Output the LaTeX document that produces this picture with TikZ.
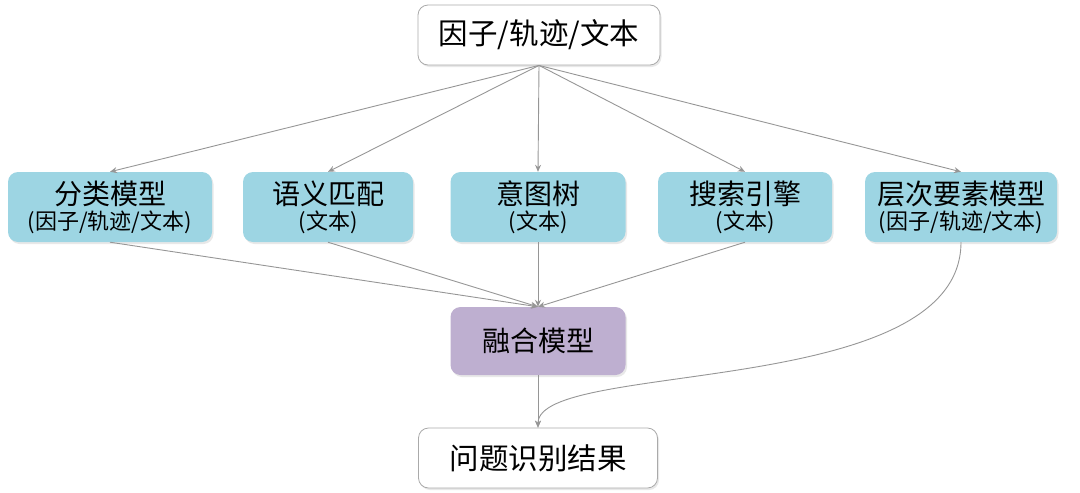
\documentclass[tikz,border=0pt]{standalone}
\usepackage{fontspec}
\setmainfont{Noto Sans CJK SC}
\usetikzlibrary{arrows.meta,shadows}
\definecolor{boxblue}{RGB}{157,213,227}
\definecolor{boxpurple}{RGB}{190,175,208}
\definecolor{linegray}{RGB}{150,150,150}
\definecolor{bordergray}{RGB}{170,170,170}
\newcommand{\subline}[1]{{\fontsize{22}{26}\selectfont #1}}
\begin{document}
\begin{tikzpicture}[x=1pt,y=-1pt,
  base/.style={rounded corners=10pt, inner sep=0pt, align=center,
    drop shadow={opacity=0.18, shadow xshift=1.5pt, shadow yshift=-2pt}},
  whitebox/.style={base, draw=bordergray, line width=0.8pt, fill=white, font=\fontsize{29.5}{32}\selectfont},
  bluebox/.style={base, fill=boxblue, font=\fontsize{28}{30}\selectfont},
  purplebox/.style={base, fill=boxpurple, font=\fontsize{28}{30}\selectfont},
  conn/.style={draw=linegray, line width=0.9pt, -{Stealth[length=7pt,width=6pt]}}
]
\useasboundingbox (0,0) rectangle (1080,493);
\node[whitebox, minimum width=242pt, minimum height=60pt] (top) at (539,35) {因子/轨迹/文本};
\node[bluebox, minimum width=204pt, minimum height=70pt] (b1) at (110,207) {分类模型\\[-5pt]\subline{(因子/轨迹/文本)}};
\node[bluebox, minimum width=170pt, minimum height=70pt] (b2) at (328,207) {语义匹配\\[-5pt]\subline{(文本)}};
\node[bluebox, minimum width=175pt, minimum height=70pt] (b3) at (538,207) {意图树\\[-5pt]\subline{(文本)}};
\node[bluebox, minimum width=174pt, minimum height=70pt] (b4) at (745,207) {搜索引擎\\[-5pt]\subline{(文本)}};
\node[bluebox, minimum width=192pt, minimum height=70pt] (b5) at (961,207) {层次要素模型\\[-5pt]\subline{(因子/轨迹/文本)}};
\node[purplebox, minimum width=175pt, minimum height=68pt] (fu) at (538,341) {融合模型};
\node[whitebox, minimum width=239pt, minimum height=60pt] (res) at (538,458) {问题识别结果};
\foreach \b in {b1,b2,b3,b4,b5}{
  \draw[conn] (top.south) -- (\b.north);
}
\foreach \b in {b1,b2,b3,b4}{
  \draw[conn] (\b.south) -- (fu.north);
}
\draw[conn] (fu.south) -- (res.north);
\draw[conn] (b5.south) .. controls +(0,158) and +(0,-68) .. (res.north);
\end{tikzpicture}
\end{document}
